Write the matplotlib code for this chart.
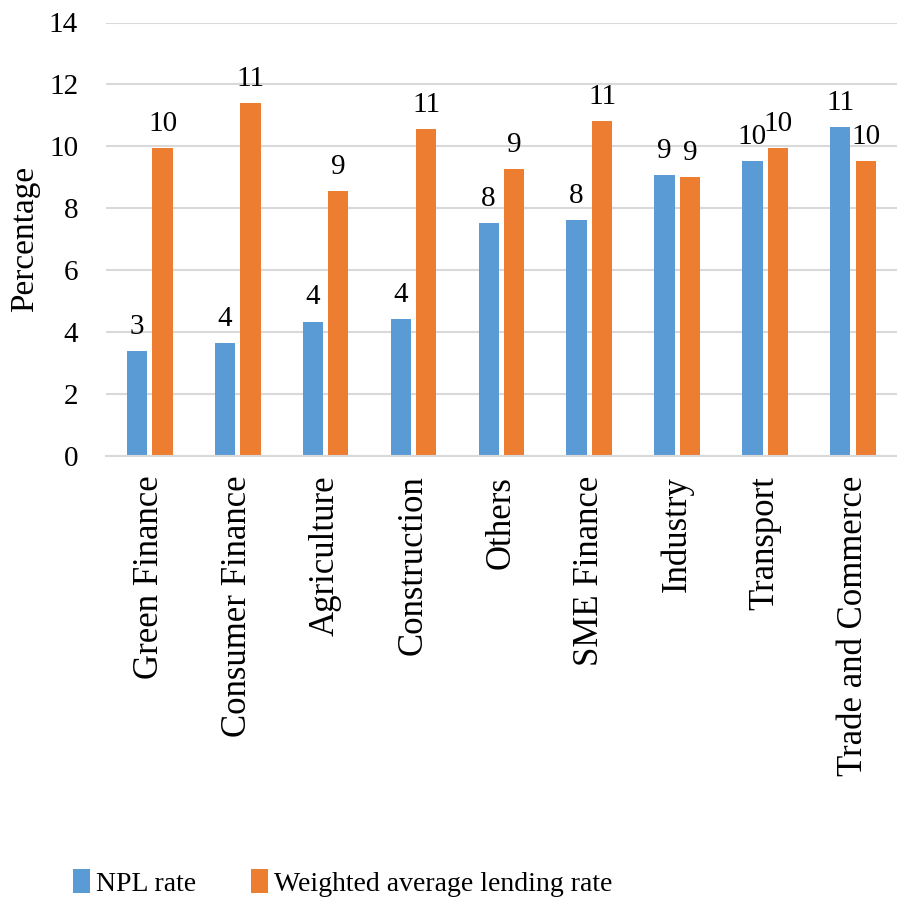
import numpy as np
import matplotlib.pyplot as plt

plt.rcParams['font.family'] = ['Liberation Serif', 'DejaVu Serif']

sectors = ["Green Finance", "Consumer Finance", "Agriculture", "Construction",
           "Others", "SME Finance", "Industry", "Transport", "Trade and Commerce"]
npl_rate = [3.40, 3.66, 4.35, 4.44, 7.54, 7.62, 9.09, 9.52, 10.64]
lending_rate = [9.96, 11.41, 8.57, 10.55, 9.26, 10.81, 9.00, 9.96, 9.52]

blue = "#5B9BD5"
orange = "#ED7D31"

fig = plt.figure(figsize=(8.97, 9.0), dpi=100)
ax = fig.add_axes([0.118, 0.493, 0.882, 0.482])

x = np.arange(len(sectors))
w = 0.23
gap = 0.06
b1 = ax.bar(x - (w + gap) / 2, npl_rate, w, color=blue, label="NPL rate")
b2 = ax.bar(x + (w + gap) / 2, lending_rate, w, color=orange,
            label="Weighted average lending rate")

for bars in (b1, b2):
    ax.bar_label(bars, fmt="%.0f", padding=8, fontsize=21)

ax.set_ylim(0, 14)
ax.set_yticks(range(0, 15, 2))
ax.set_xlim(-0.5, len(sectors) - 0.5)
ax.set_xticks(x)
ax.set_xticklabels(sectors, rotation=90, fontsize=25)
ax.tick_params(axis='y', labelsize=21, length=0, pad=20)
ax.tick_params(axis='x', length=0, pad=14)
ax.set_ylabel("Percentage", fontsize=24, labelpad=6)

ax.grid(axis='y', color="#d9d9d9", linewidth=1.5)
ax.set_axisbelow(True)
for s in ("top", "right", "left"):
    ax.spines[s].set_visible(False)
ax.spines["bottom"].set_color("#d9d9d9")
ax.spines["bottom"].set_linewidth(1.5)

fig.legend(handles=[b1, b2], loc="lower center", bbox_to_anchor=(0.382, -0.024),
           ncol=2, frameon=False, fontsize=20, handlelength=0.6,
           handleheight=0.9, handletextpad=0.2, columnspacing=2.0)

fig.savefig("out.png", dpi=100)
